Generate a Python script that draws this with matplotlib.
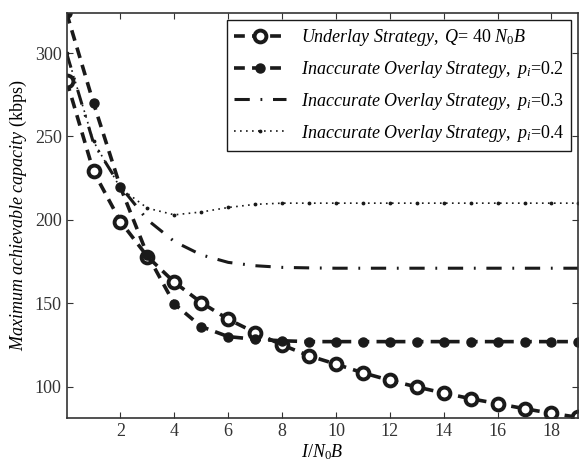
import numpy as np
import matplotlib.pyplot as plt

plt.rcParams['font.family'] = 'Liberation Serif'
plt.rcParams['mathtext.fontset'] = 'custom'
plt.rcParams['mathtext.rm'] = 'Liberation Serif'
plt.rcParams['mathtext.it'] = 'Liberation Serif:italic'

# Data
x = list(range(20))
underlay = [283.5, 229, 199, 178, 162.6, 150.4, 140.4, 132.4, 125, 118.5,
            113.5, 108.3, 103.8, 99.8, 96.2, 92.8, 89.8, 86.8, 84, 81.6]
overlay_02 = [324, 270, 219.5, 179, 149.6, 136, 130, 128.4, 127.5, 127,
              127, 127, 127, 127, 127, 127, 127, 127, 127, 127]
overlay_03 = [300, 246, 220, 200, 187, 179, 174.5, 172.5, 171.5, 171.2,
              171, 171, 171, 171, 171, 171, 171, 171, 171, 171]
overlay_04 = [300, 247, 219, 207, 203, 204.7, 207.4, 209.3, 210, 210,
              210, 210, 210, 210, 210, 210, 210, 210, 210, 210]

labels = [r'$\mathit{Underlay\ Strategy,\ Q}$= 40 $\mathit{N_{0}B}$',
          r'$\mathit{Inaccurate\ Overlay\ Strategy,\ p_{i}}$=0.2',
          r'$\mathit{Inaccurate\ Overlay\ Strategy,\ p_{i}}$=0.3',
          r'$\mathit{Inaccurate\ Overlay\ Strategy,\ p_{i}}$=0.4']

fig = plt.figure(figsize=(5.79, 4.67), dpi=100)
ax = fig.add_axes([0.115, 0.1056, 0.884, 0.8666])

ax.plot(x, underlay, color='#1a1a1a', ls='--', lw=2.6, dashes=(3, 2),
        marker='o', ms=8.5, mfc='white', mec='#1a1a1a', mew=2.8, label=labels[0])
ax.plot(x, overlay_02, color='#1a1a1a', ls='--', lw=2.6, dashes=(3, 2),
        marker='o', ms=6.5, mfc='#1a1a1a', mec='#1a1a1a', label=labels[1])
ax.plot(x, overlay_03, color='#1a1a1a', lw=2.2, dashes=(5, 3.5, 0.6, 3.5),
        label=labels[2])
ax.plot(x, overlay_04, color='#1a1a1a', lw=1.2, dashes=(1, 2.6),
        marker='.', ms=3.5, label=labels[3])

ax.set_xlim(0, 19)
ax.set_ylim(81.4, 324)
ax.set_xticks(range(2, 19, 2))
ax.set_yticks([100, 150, 200, 250, 300])
ax.tick_params(direction='in', top=True, right=True, labelsize=13,
               length=4, width=0.8, colors='#333333', labelcolor='#333333')
for s in ax.spines.values():
    s.set_linewidth(1.2)
    s.set_color('#333333')

ax.set_xlabel(r'$\mathit{I/N_{0}B}$', fontsize=13, labelpad=2)
ax.set_ylabel(r'$\mathit{Maximum\ achievable\ capacity}$ (kbps)', fontsize=13,
              labelpad=4)

leg = ax.legend(loc='upper right', bbox_to_anchor=(0.986, 0.983),
                borderaxespad=0, fontsize=13, handlelength=2.9,
                labelspacing=0.6, fancybox=False, framealpha=1,
                edgecolor='#1a1a1a')
leg.get_frame().set_linewidth(1.0)

fig.savefig('out.png', dpi=100)
